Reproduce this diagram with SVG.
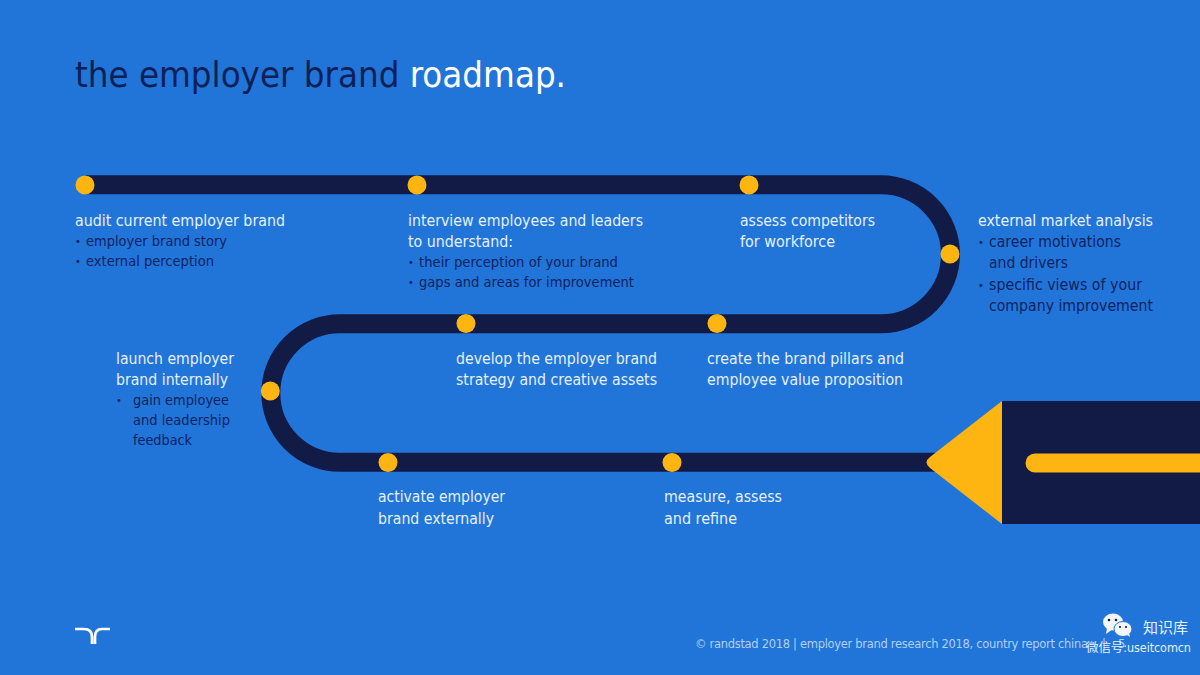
<svg xmlns="http://www.w3.org/2000/svg" width="1200" height="675" viewBox="0 0 1200 675">
<style>
text{font-family:"DejaVu Sans","Noto Sans",sans-serif;font-stretch:condensed;font-size:14px;fill:#0f2360}
.h{fill:#e6f0fb;font-size:16px}
.m{font-size:15.500px}
.b{font-size:11px}
.f{font-size:11.500px;font-stretch:normal;fill:#b3cff0}
.dot{fill:#ffb511}
.title{font-size:36px;fill:#0e2157}
.road{fill:none;stroke:#111b45;stroke-width:19}
</style>
<rect width="1200" height="675" fill="#2175d9"/>
<text class="title" x="75" y="87" textLength="491" lengthAdjust="spacingAndGlyphs">the employer brand <tspan style="fill:#fff">roadmap.</tspan></text>
<g id="connectors">
<path class="road" d="M85 184.800H881A69.500 69.500 0 0 1 881 323.800H340A69.200 69.200 0 0 0 340 462.200H940"/>
</g>
<g id="pencil">
<rect x="1002" y="401" width="198" height="123" fill="#111b45"/>
<path class="dot" d="M1002 401V524L930 468Q923 462.500 930 457Z"/>
<path class="dot" d="M1200 453.500H1035A9.250 9.250 0 0 0 1035 472.500H1200Z"/>
</g>
<g id="n1"><circle class="dot" cx="85" cy="185" r="9.500"/>
<text class="h" x="75" y="226" textLength="210" lengthAdjust="spacingAndGlyphs">audit current employer brand</text>
<text class="b" x="75" y="245">•</text><text x="86" y="246" textLength="141" lengthAdjust="spacingAndGlyphs">employer brand story</text>
<text class="b" x="75" y="265">•</text><text x="86" y="266" textLength="128" lengthAdjust="spacingAndGlyphs">external perception</text></g>
<g id="n2"><circle class="dot" cx="417" cy="185" r="9.500"/>
<text class="h" x="408" y="226" textLength="235" lengthAdjust="spacingAndGlyphs">interview employees and leaders</text>
<text class="h" x="408" y="247" textLength="105" lengthAdjust="spacingAndGlyphs">to understand:</text>
<text class="b" x="408" y="266">•</text><text x="419" y="267" textLength="199" lengthAdjust="spacingAndGlyphs">their perception of your brand</text>
<text class="b" x="408" y="286">•</text><text x="419" y="287" textLength="215" lengthAdjust="spacingAndGlyphs">gaps and areas for improvement</text></g>
<g id="n3"><circle class="dot" cx="749" cy="185" r="9.500"/>
<text class="h" x="740" y="226" textLength="135" lengthAdjust="spacingAndGlyphs">assess competitors</text>
<text class="h" x="740" y="247" textLength="95" lengthAdjust="spacingAndGlyphs">for workforce</text></g>
<g id="n4"><circle class="dot" cx="950" cy="254" r="9.500"/>
<text class="h" x="978" y="226" textLength="175" lengthAdjust="spacingAndGlyphs">external market analysis</text>
<text class="b" x="978" y="246">•</text><text class="m" x="989" y="247" textLength="132" lengthAdjust="spacingAndGlyphs">career motivations</text>
<text class="m" x="989" y="268" textLength="79" lengthAdjust="spacingAndGlyphs">and drivers</text>
<text class="b" x="978" y="289">•</text><text class="m" x="989" y="290" textLength="153" lengthAdjust="spacingAndGlyphs">specific views of your</text>
<text class="m" x="989" y="311" textLength="164" lengthAdjust="spacingAndGlyphs">company improvement</text></g>
<g id="n5"><circle class="dot" cx="717" cy="323.500" r="9.500"/>
<text class="h" x="707" y="364" textLength="197" lengthAdjust="spacingAndGlyphs">create the brand pillars and</text>
<text class="h" x="707" y="385" textLength="196" lengthAdjust="spacingAndGlyphs">employee value proposition</text></g>
<g id="n6"><circle class="dot" cx="466" cy="323.500" r="9.500"/>
<text class="h" x="456" y="364" textLength="201" lengthAdjust="spacingAndGlyphs">develop the employer brand</text>
<text class="h" x="456" y="385" textLength="201" lengthAdjust="spacingAndGlyphs">strategy and creative assets</text></g>
<g id="n7"><circle class="dot" cx="270.300" cy="391" r="9.500"/>
<text class="h" x="116" y="364" textLength="118" lengthAdjust="spacingAndGlyphs">launch employer</text>
<text class="h" x="116" y="385" textLength="112" lengthAdjust="spacingAndGlyphs">brand internally</text>
<text class="b" x="116" y="404">•</text>
<text x="133" y="405" textLength="96" lengthAdjust="spacingAndGlyphs">gain employee</text>
<text x="133" y="425" textLength="97" lengthAdjust="spacingAndGlyphs">and leadership</text>
<text x="133" y="445" textLength="59" lengthAdjust="spacingAndGlyphs">feedback</text></g>
<g id="n8"><circle class="dot" cx="388" cy="462.500" r="9.500"/>
<text class="h" x="378" y="502" textLength="127" lengthAdjust="spacingAndGlyphs">activate employer</text>
<text class="h" x="378" y="524" textLength="116" lengthAdjust="spacingAndGlyphs">brand externally</text></g>
<g id="n9"><circle class="dot" cx="672" cy="462.500" r="9.500"/>
<text class="h" x="664" y="502" textLength="118" lengthAdjust="spacingAndGlyphs">measure, assess</text>
<text class="h" x="664" y="524" textLength="73" lengthAdjust="spacingAndGlyphs">and refine</text></g>
<g id="logo" fill="none" stroke="#fff" stroke-width="2.700">
<path d="M75 629H84Q92 629 92 637V644M110 629H102Q95 629 95 637V644"/>
</g>
<text class="f" x="695" y="648" textLength="393">© randstad 2018 | employer brand research 2018, country report china</text>
<text class="f" x="1102" y="648">|</text>
<text class="f" x="1118" y="648">5</text>
<g id="watermark">
<ellipse cx="1113" cy="622" rx="10" ry="8.500" fill="#f2f6fc"/>
<path d="M1107 628L1106 634L1113 629Z" fill="#f2f6fc"/>
<ellipse cx="1123" cy="629" rx="9" ry="7.500" fill="#f2f6fc" stroke="#2175d9"/>
<path d="M1127 635L1130 637L1129 633Z" fill="#f2f6fc"/>
<circle cx="1109" cy="620" r="1.300" fill="#123"/><circle cx="1116" cy="620" r="1.300" fill="#123"/>
<circle cx="1120" cy="627" r="1.100" fill="#123"/><circle cx="1126" cy="627" r="1.100" fill="#123"/>
<text x="1143" y="633" style="font-family:'Noto Sans CJK SC',sans-serif;font-size:15px;fill:#e6f0fb">知识库</text>
<text x="1086" y="652" textLength="105" style="font-family:'DejaVu Sans','Noto Sans CJK SC',sans-serif;font-size:12.500px;fill:#e6f0fb">微信号:useitcomcn</text>
</g>
</svg>
